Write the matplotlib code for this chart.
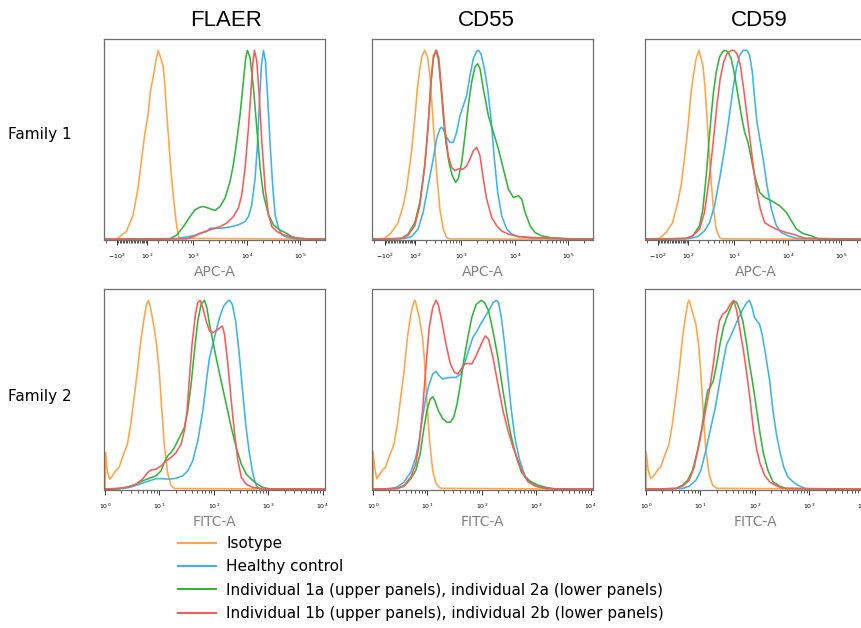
import matplotlib
matplotlib.use('Agg')
import matplotlib.pyplot as plt
from matplotlib.lines import Line2D

ISO_C = '#FFA546'
CTRL_C = '#3CB4E6'
IND_A_C = '#32B43C'
IND_B_C = '#FA5A5A'

titles = ['FLAER', 'CD55', 'CD59']
families = ['Family 1', 'Family 2']
legend_labels = ['Isotype', 'Healthy control',
                 'Individual 1a (upper panels), individual 2a (lower panels)',
                 'Individual 1b (upper panels), individual 2b (lower panels)']

# ---- Family 1, APC-A (intensity, % of max) ----
flaer_apc_iso = [(-220, 0), (-106, 0), (-81, 1.4), (-36, 4.1), (6, 12.9), (37, 27.1), (59, 41.2), (82, 55.4),
                 (107, 66), (126, 78.4), (148, 85.5), (174, 94.3), (197, 100), (224, 96.1), (255, 91.7),
                 (277, 81.9), (300, 67.8), (327, 55.4), (365, 37.7), (409, 23.5), (467, 9.4), (517, 1.8),
                 (553, 0.5), (290000, 0)]
flaer_apc_ctrl = [(-220, 0), (481, 0.4), (743, 1.2), (1155, 2.3), (1778, 4.1), (2054, 5.8), (3162, 5.8),
                  (4217, 6.2), (5623, 6.9), (7499, 8), (9306, 9.4), (10746, 12), (12409, 18.2), (14330, 32.4),
                  (15849, 50.1), (17283, 73.1), (18836, 92.6), (20535, 100), (22387, 94.3), (24413, 76.6),
                  (27384, 50.1), (30726, 27.1), (33980, 12.9), (39240, 5.8), (45300, 2.3), (56234, 1.1),
                  (74989, 0.4), (290000, 0)]
flaer_apc_a = [(-220, 0), (354, 0.2), (481, 2.3), (648, 6.7), (866, 12), (1075, 15.6), (1334, 17), (1540, 17.3),
               (1778, 16.8), (2548, 15.2), (3162, 17.3), (3924, 21.8), (4870, 30.6), (5623, 39.5), (6494, 51.9),
               (7499, 66), (8660, 83.7), (9576, 96.1), (10292, 100), (11548, 96.1), (13335, 80.2), (15399, 58.9),
               (17783, 37.7), (20535, 23.5), (25480, 12.9), (31623, 7.6), (39240, 5.3), (52360, 3.5),
               (69830, 1.4), (86596, 0.4), (290000, 0)]
flaer_apc_b = [(-220, 0), (743, 0.2), (1000, 1.4), (1334, 3.2), (1778, 4.4), (2371, 5.5), (3162, 6.7), (4217, 8.5),
               (5623, 12), (6980, 16.5), (8058, 23.5), (9306, 37.7), (10746, 58.9), (11885, 76.6), (12957, 92.6),
               (13930, 100), (15399, 94.3), (17029, 76.6), (19110, 51.9), (22070, 27.1), (25480, 12.9),
               (29430, 6.7), (36517, 4.1), (48697, 2.3), (74989, 0.9), (133352, 0.2), (290000, 0)]

cd55_apc_iso = [(-220, 0), (-104, 0.4), (-56, 3.5), (-13, 8.8), (19, 17.7), (40, 26.5), (73, 46), (97, 63.7),
                (117, 79.6), (137, 90.3), (158, 97.3), (183, 100), (212, 96.5), (239, 86.7), (260, 74.3),
                (291, 56.6), (331, 35.4), (386, 15.9), (450, 5.3), (522, 0.9), (606, 0.2), (290000, 0)]
cd55_apc_ctrl = [(-220, 0), (29, 0.4), (73, 1.4), (123, 5.3), (167, 14.2), (219, 28.3), (282, 42.5), (331, 53.1),
                 (386, 58.4), (415, 59.3), (449, 58.4), (522, 54), (606, 51.3), (702, 51.3), (812, 56.6),
                 (944, 65.5), (1090, 70.8), (1259, 76.1), (1454, 86.7), (1679, 95.6), (1939, 99.5), (2084, 100),
                 (2337, 98.2), (2698, 90.3), (3116, 79.6), (3597, 63.7), (4155, 42.5), (4798, 24.8),
                 (5702, 12.4), (7079, 5.3), (8790, 2.7), (11722, 1.4), (20840, 0.7), (290000, 0)]
cd55_apc_a = [(-220, 0), (8, 0.4), (50, 2.7), (97, 8.8), (137, 19.5), (183, 38.9), (219, 60.2), (251, 81.4),
              (282, 95.6), (320, 100), (357, 95.6), (403, 81.4), (449, 65.5), (507, 51.3), (580, 40.7),
              (672, 33.6), (777, 30.1), (872, 31.9), (1015, 40.7), (1171, 54.9), (1353, 70.8), (1563, 83.2),
              (1803, 91.2), (2023, 92.9), (2239, 90.3), (2585, 79.6), (3206, 65.5), (3981, 56.6), (4943, 47.8),
              (6132, 37.2), (7603, 26.5), (9441, 22.1), (11722, 23), (13530, 21.2), (15627, 14.2),
              (19387, 7.1), (24050, 3.5), (32063, 1.8), (49431, 0.7), (87900, 0.2), (290000, 0)]
cd55_apc_b = [(-220, 0), (8, 0.4), (50, 2.1), (97, 7.1), (137, 17.7), (183, 38.9), (219, 60.2), (251, 83.2),
              (287, 97.3), (331, 100), (368, 95.6), (415, 79.6), (484, 58.4), (562, 44.2), (652, 38.1),
              (755, 36.3), (872, 37.2), (1090, 37.2), (1259, 38.9), (1454, 42.5), (1679, 46.9), (1939, 48.7),
              (2239, 44.2), (2585, 31.9), (2985, 21.2), (3707, 11.5), (4597, 7.1), (5702, 4.4), (7603, 2.7),
              (11722, 1.4), (20840, 0.9), (65870, 0.5), (117100, 0.2), (290000, 0)]

cd59_apc_iso = [(-220, 0), (-91, 0.4), (-45, 3.5), (-3, 8.8), (29, 19.5), (50, 28.3), (73, 42.5), (97, 58.4),
                (123, 77.9), (142, 86.7), (167, 95.6), (194, 100), (219, 95.6), (239, 92), (264, 81.4),
                (291, 65.5), (320, 47.8), (357, 30.1), (397, 15.9), (449, 5.3), (522, 0.9), (606, 0.2),
                (290000, 0)]
cd59_apc_ctrl = [(-220, 0), (109, 0.4), (183, 1.4), (259, 4.4), (331, 8.8), (415, 17.7), (522, 31.9), (652, 47.8),
                 (788, 63.7), (940, 79.6), (1090, 90.3), (1259, 97.3), (1454, 100), (1728, 100), (1939, 97.3),
                 (2175, 88.5), (2405, 74.3), (2661, 61.9), (3073, 51.3), (3548, 40.7), (4097, 28.3),
                 (4943, 15.9), (6132, 7.1), (7603, 3.5), (10150, 1.8), (14540, 0.5), (290000, 0)]
cd59_apc_a = [(-220, 0), (85, 0.4), (137, 1.8), (201, 7.1), (239, 15.9), (282, 33.6), (320, 51.3), (357, 65.5),
              (397, 77.9), (449, 88.5), (522, 96.5), (606, 99.5), (682, 100), (755, 99.1), (872, 95.6),
              (1015, 86.7), (1171, 76.1), (1353, 65.5), (1563, 56.6), (1803, 51.3), (2084, 42.5), (2405, 33.6),
              (2985, 24.8), (3707, 22.1), (4943, 20.4), (7079, 17.7), (9441, 14.2), (11722, 9.7), (14540, 5.3),
              (19387, 3), (27770, 1.8), (37040, 0.2), (290000, 0)]
cd59_apc_b = [(-220, 0), (85, 0.4), (137, 1.8), (201, 5.3), (259, 14.2), (331, 33.6), (397, 53.1), (463, 70.8),
              (537, 85), (624, 93.8), (722, 98.2), (872, 100), (980, 100), (1122, 98.2), (1296, 92),
              (1496, 79.6), (1728, 65.5), (1995, 51.3), (2304, 37.2), (2661, 24.8), (3073, 15.9), (3707, 8.8),
              (4597, 7.1), (6132, 5.3), (9441, 3.5), (14540, 2.1), (20840, 0.5), (290000, 0)]

# ---- Family 2, FITC-A ----
flaer_fitc_iso = [(0.96, 0), (1.0, 0), (1.03, 19.4), (1.10, 9.7), (1.22, 5.3), (1.37, 7.1), (1.57, 9.7),
                  (1.81, 11.5), (2.09, 16.8), (2.58, 23.8), (2.98, 34.4), (3.43, 48.5), (3.95, 62.6), (4.55, 78.5),
                  (5.25, 90.8), (5.80, 97.9), (6.31, 100), (6.97, 95.2), (7.80, 87.3), (8.87, 76.7), (9.93, 62.6),
                  (11.1, 41.4), (12.3, 23.8), (14.1, 8.8), (16.3, 2.1), (18.8, 0.4), (11000, 0)]
flaer_fitc_ctrl = [(0.96, 0), (1.81, 0.2), (2.77, 0.9), (4.24, 2.6), (6.49, 4.4), (8.61, 5.6), (11.4, 5.6),
                   (15.2, 5.3), (20.2, 5.8), (26.8, 7.1), (33.1, 9.7), (40.9, 15), (50.7, 25.6), (62.7, 41.4),
                   (74.3, 59.1), (83.2, 69.7), (95.9, 76.7), (110, 83.8), (127, 90.8), (151, 97), (181, 99.6),
                   (195, 100), (218, 97.9), (251, 89.1), (289, 73.2), (333, 53.8), (385, 34.4), (443, 20.3),
                   (510, 9.7), (563, 4.4), (622, 1.2), (697, 0.2), (11000, 0)]
flaer_fitc_a = [(0.96, 0), (1.57, 0.2), (2.41, 0.9), (3.68, 2.6), (4.89, 4.4), (6.49, 5.8), (8.61, 7.1),
                (10.7, 9.7), (12.3, 14.1), (14.1, 17.6), (16.3, 19.4), (18.8, 22), (23.2, 27.3), (28.7, 32.6),
                (33.1, 41.4), (38.2, 55.6), (44, 73.2), (50.7, 89.1), (58.3, 97.9), (67.3, 100), (74.3, 96.1),
                (83.2, 87.3), (95.9, 78.5), (110, 69.7), (136, 57.3), (169, 45), (209, 32.6), (258, 22),
                (320, 13.2), (395, 7.9), (489, 5.3), (605, 3), (803, 0.9), (1066, 0.2), (11000, 0)]
flaer_fitc_b = [(0.96, 0), (1.03, 0.2), (1.81, 0.5), (2.77, 1.2), (3.68, 2.6), (4.89, 5.3), (6.05, 8.8),
                (6.97, 10.2), (8.61, 10.6), (10.7, 12.3), (13.2, 15), (16.3, 16.8), (20.2, 19.4), (24.9, 23.8),
                (28.7, 30.9), (32.2, 41.4), (35.6, 59.1), (39.8, 76.7), (45.9, 92.6), (50.7, 98.8), (55.9, 100),
                (62.7, 96.1), (72.1, 89.1), (83.2, 83.8), (95.9, 82.9), (119, 84.7), (143, 86.4), (157, 82),
                (181, 66.1), (209, 46.7), (241, 29.1), (277, 15), (320, 6.2), (395, 2.6), (525, 0.9),
                (925, 0.2), (11000, 0)]

cd55_fitc_iso = [(0.96, 0), (1.0, 0), (1.01, 19.7), (1.07, 11.8), (1.17, 5.6), (1.29, 7.4), (1.49, 10),
                 (1.71, 11.8), (1.97, 17), (2.44, 24), (2.81, 34.6), (3.24, 48.7), (3.73, 62.7), (4.30, 80.3),
                 (4.96, 92.6), (5.55, 98.8), (5.96, 100), (7.07, 90.9), (8.14, 80.3), (8.74, 69.8), (9.79, 46.9),
                 (10.8, 27.6), (12.5, 10), (14.4, 3), (17.3, 0.5), (11000, 0)]
cd55_fitc_ctrl = [(0.96, 0), (2.12, 0.4), (2.81, 1.2), (3.73, 3.9), (4.96, 9.1), (6.13, 17), (7.07, 25.8),
                  (8.14, 38.1), (9.38, 48.7), (10.8, 55.7), (12.5, 61), (14.4, 62.4), (16.5, 60.1), (19.1, 58.3),
                  (22, 58.9), (27.2, 59.2), (33.6, 59.2), (40.4, 61), (47.9, 66.3), (56.8, 73.3), (68.2, 80.3),
                  (82, 83.8), (94.5, 87.3), (112, 90.9), (133, 94.4), (160, 98.8), (184, 100), (203, 98.8),
                  (228, 90.9), (262, 76.8), (302, 59.2), (348, 41.7), (412, 25.8), (496, 15.3), (614, 7.4),
                  (815, 3), (1081, 1.2), (1542, 0.4), (11000, 0)]
cd55_fitc_a = [(0.96, 0), (2.81, 0.4), (3.73, 1.6), (4.96, 5.6), (6.13, 10), (7.38, 18.8), (8.50, 31.1),
               (9.79, 41.7), (11.3, 47.8), (12.5, 49), (13.7, 46.9), (15.8, 41.7), (19.1, 37.3), (22.9, 35.5),
               (26.4, 35.5), (30.4, 38.1), (35.1, 45.2), (40.4, 55.7), (46.5, 68), (55.2, 80.3), (65.3, 90.9),
               (78.6, 97.9), (97.2, 100), (112, 98.8), (133, 94.4), (160, 83.8), (197, 69.8), (244, 52.2),
               (294, 38.1), (348, 27.6), (430, 17), (532, 9.1), (658, 5.6), (815, 3.9), (1081, 2.1),
               (1542, 0.9), (2355, 0), (11000, 0)]
cd55_fitc_b = [(0.96, 0), (2.81, 0.4), (3.73, 2.1), (4.96, 6.5), (6.13, 13.5), (7.07, 24.1), (8.14, 41.7),
               (9.38, 64.5), (10.8, 85.6), (12.5, 96.1), (14.4, 100), (15.8, 97.9), (18.3, 89.1), (22, 76.8),
               (26.4, 66.3), (31.3, 61.9), (36.1, 61), (41.5, 63.6), (47.9, 66.3), (55.2, 66.6), (65.3, 66.3),
               (78.6, 70.7), (97.2, 76.8), (115, 81.2), (133, 79.4), (160, 69.8), (197, 55.7), (244, 41.7),
               (302, 31.1), (373, 22.3), (462, 15.3), (571, 8.3), (706, 3.9), (938, 1.8), (1435, 0.5),
               (2529, 0), (11000, 0)]

cd59_fitc_iso = [(0.96, 0), (1.0, 0), (1.01, 19.7), (1.10, 10), (1.22, 5.6), (1.41, 7.4), (1.62, 10),
                 (1.86, 11.8), (2.15, 17), (2.66, 24), (3.06, 34.6), (3.53, 48.7), (4.07, 62.7), (4.69, 80.3),
                 (5.40, 92.6), (5.88, 98.8), (6.22, 100), (7.17, 93.5), (8.26, 87.3), (9.25, 76.8), (10.2, 61),
                 (11.4, 38.1), (12.6, 20.7), (14.6, 7.4), (16.8, 2.1), (19.9, 0.5), (11000, 0)]
cd59_fitc_ctrl = [(0.96, 0), (4.69, 0.4), (6.22, 1.6), (8.26, 4.7), (10.2, 10), (12.6, 20.6), (15.6, 32.9),
                  (18.8, 43.4), (22.3, 55.7), (26.4, 68), (30.4, 76.8), (35.1, 80.3), (42.1, 85.6), (50.7, 90.9),
                  (60, 95.3), (71.2, 98.8), (79.7, 100), (89.3, 96.1), (98.6, 90.9), (109, 89.1), (122, 87.3),
                  (136, 82), (157, 71.5), (187, 57.5), (215, 41.7), (248, 29.5), (285, 20.6), (338, 11.8),
                  (406, 6.5), (503, 3.9), (622, 2.1), (769, 0.9), (887, 0.2), (11000, 0)]
cd59_fitc_a = [(0.96, 0), (3.53, 0.4), (4.69, 2.1), (5.80, 4.7), (7.17, 10), (8.87, 20.6), (10.7, 32.9),
               (12.3, 45.2), (13.6, 52.2), (15.2, 54), (17.3, 57.5), (19.9, 66.3), (22.9, 76.8), (26.4, 85.6),
               (30.4, 90.9), (34.1, 94.4), (38.2, 97.9), (42.1, 99.5), (46.5, 98.8), (52.1, 95.3), (60, 89.1),
               (69.2, 78.6), (79.7, 66.3), (91.8, 55.7), (106, 43.4), (122, 31.1), (144, 18.8), (174, 10),
               (215, 3.9), (285, 1.6), (379, 0.4), (11000, 0)]
cd59_fitc_b = [(0.96, 0), (3.53, 0.4), (4.69, 1.6), (6.22, 4.7), (7.69, 11.8), (9.51, 24.1), (11.8, 38.1),
               (14.6, 52.2), (17.3, 66.3), (19.9, 80.3), (22.3, 89.1), (25.7, 92.6), (30.4, 94.4), (35.1, 97.9),
               (40.9, 100), (46.5, 94.4), (53.6, 83.8), (61.8, 73.3), (71.2, 61), (82, 46.9), (94.5, 31.1),
               (109, 20.6), (125, 13.5), (151, 7.4), (187, 3.9), (248, 1.8), (329, 0.5), (11000, 0)]

panels = [
    [[flaer_apc_iso, flaer_apc_ctrl, flaer_apc_a, flaer_apc_b],
     [cd55_apc_iso, cd55_apc_ctrl, cd55_apc_a, cd55_apc_b],
     [cd59_apc_iso, cd59_apc_ctrl, cd59_apc_a, cd59_apc_b]],
    [[flaer_fitc_iso, flaer_fitc_ctrl, flaer_fitc_a, flaer_fitc_b],
     [cd55_fitc_iso, cd55_fitc_ctrl, cd55_fitc_a, cd55_fitc_b],
     [cd59_fitc_iso, cd59_fitc_ctrl, cd59_fitc_a, cd59_fitc_b]],
]
colors = [ISO_C, CTRL_C, IND_A_C, IND_B_C]

apc_major = [-100, 100, 1e3, 1e4, 1e5]
apc_major_labels = ['$-10^2$', '$10^2$', '$10^3$', '$10^4$', '$10^5$']
apc_minor = ([-200] + list(range(-90, 100, 10)) + list(range(200, 1000, 100))
             + list(range(2000, 10000, 1000)) + list(range(20000, 100000, 10000)) + [200000])
fitc_major = [1, 10, 100, 1000, 10000]
fitc_major_labels = ['$10^0$', '$10^1$', '$10^2$', '$10^3$', '$10^4$']

W, H = 862, 628
fig = plt.figure(figsize=(W / 100, H / 100), dpi=100)

col_left = [104, 372, 645]
row_bottom = [240, 490]
ax_w, ax_h = 221, 201

for r in range(2):
    for c in range(3):
        ax = fig.add_axes([col_left[c] / W, 1 - row_bottom[r] / H, ax_w / W, ax_h / H])
        for curve, col in zip(panels[r][c], colors):
            xs, ys = zip(*curve)
            ax.plot(xs, ys, color=col, lw=1.15, solid_joinstyle='round')
        if r == 0:
            ax.set_xscale('asinh', linear_width=144)
            ax.set_xlim(-220, 290000)
            ax.set_xticks(apc_major, apc_major_labels)
            ax.set_xticks(apc_minor, minor=True)
            ax.set_xlabel('APC-A', fontsize=10, color='#808080', labelpad=2.5)
        else:
            ax.set_xscale('log')
            ax.set_xlim(0.96, 11000)
            ax.set_xticks(fitc_major, fitc_major_labels)
            ax.set_xlabel('FITC-A', fontsize=10, color='#808080', labelpad=2.5)
        ax.set_ylim(-0.4, 106)
        ax.set_yticks([])
        ax.tick_params(axis='x', which='major', direction='out', length=3.5, width=0.7,
                       color='#333333', labelsize=4.5, pad=5)
        ax.tick_params(axis='x', which='minor', direction='out', length=2.5, width=0.6,
                       color='#333333')
        for s in ax.spines.values():
            s.set_color('#6e6e6e')
            s.set_linewidth(0.9)

title_x = [226, 486, 759]
for t, x in zip(titles, title_x):
    fig.text(x / W, 1 - 20 / H, t, ha='center', va='center', fontsize=16, family='Liberation Sans')

fig.text(8 / W, 1 - 135 / H, families[0], ha='left', va='center', fontsize=11)
fig.text(8 / W, 1 - 397 / H, families[1], ha='left', va='center', fontsize=11)

handles = [Line2D([], [], color=c, lw=1.5) for c in colors]
fig.legend(handles, legend_labels, loc='upper left', bbox_to_anchor=(178 / W, 1 - 536 / H),
           frameon=False, fontsize=11, handlelength=2.5, handletextpad=0.65,
           labelspacing=0.55, borderpad=0, borderaxespad=0)

fig.savefig('out.png', dpi=100)
